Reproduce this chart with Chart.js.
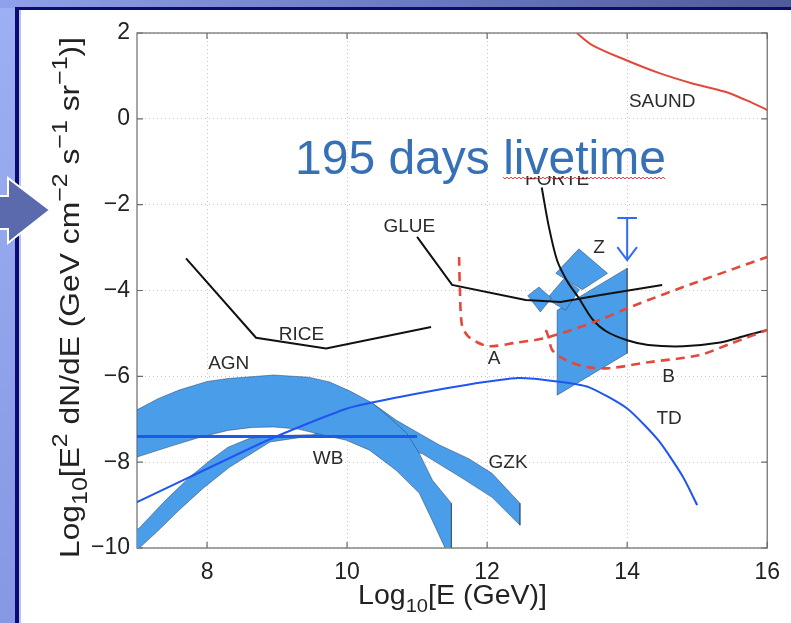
<!DOCTYPE html>
<html>
<head>
<meta charset="utf-8">
<script src="https://cdn.jsdelivr.net/npm/chart.js@4.4.1/dist/chart.umd.min.js"></script>
<style>
html, body { margin: 0; padding: 0; background: #fff; overflow: hidden; }
#wrap { width: 791px; height: 623px; position: relative; }
</style>
</head>
<body>
<div id="wrap"><canvas id="c" width="791" height="623"></canvas></div>
<script>
// axis ticks
const xTicks = [8, 10, 12, 14, 16];
const yTicks = [-10, -8, -6, -4, -2, 0, 2];

// limits (lines)
const saundX = [13.28, 13.5, 13.98, 14.45, 14.92, 15.4, 15.69, 15.97, 16.0];
const saundY = [2.0, 1.72, 1.37, 1.07, 0.83, 0.63, 0.44, 0.23, 0.2];
const riceX = [7.7, 8.7, 9.7, 11.2];
const riceY = [-3.25, -5.1, -5.35, -4.85];
const glueX = [11.0, 11.5, 12.55, 13.05, 13.6, 14.5];
const glueY = [-2.75, -3.87, -4.22, -4.27, -4.11, -3.87];
const forteX = [12.78, 12.88, 13.0, 13.15, 13.3, 13.5, 13.7, 14.0, 14.3, 14.8, 15.3, 15.7, 16.0];
const forteY = [-1.6, -2.5, -3.3, -3.8, -4.15, -4.66, -4.95, -5.16, -5.27, -5.3, -5.22, -5.05, -4.92];
const aX = [11.6, 11.61, 11.64, 11.72, 11.85, 12.03, 12.4, 12.85, 13.6, 14.07, 15.0, 16.0];
const aY = [-3.22, -3.9, -4.8, -5.05, -5.2, -5.3, -5.22, -5.1, -4.69, -4.37, -3.8, -3.22];
const bX = [12.84, 12.88, 12.93, 13.12, 13.41, 13.74, 14.31, 15.02, 15.49, 16.0];
const bY = [-4.92, -5.1, -5.39, -5.62, -5.78, -5.81, -5.67, -5.51, -5.23, -4.92];

// models
const tdX = [7.0, 7.75, 8.85, 10.0, 10.75, 11.7, 12.45, 13.0, 13.45, 14.0, 14.45, 14.8, 15.0];
const tdY = [-8.93, -8.35, -7.5, -6.75, -6.48, -6.2, -6.04, -6.12, -6.25, -6.75, -7.5, -8.35, -9.0];
const wbX = [7.0, 11.0];
const wbY = [-7.4, -7.4];
const agnX = [7.0, 7.3, 7.6, 8.0, 8.3, 8.95, 9.45, 9.75, 10.05, 10.36, 10.6, 10.85, 11.03, 11.22, 11.49, 11.49, 11.47, 11.2, 11.03, 10.7, 10.32, 9.99, 9.61, 9.3, 8.95, 8.65, 8.3, 7.9, 7.5, 7.0, 7.0];
const agnY = [-6.78, -6.52, -6.32, -6.12, -6.05, -5.97, -6.02, -6.13, -6.35, -6.62, -6.95, -7.32, -7.79, -8.42, -8.96, -10.25, -10.25, -9.3, -8.72, -8.19, -7.72, -7.49, -7.35, -7.23, -7.18, -7.19, -7.26, -7.42, -7.62, -7.88, -6.78];
const gzkX = [6.9, 7.04, 7.4, 7.75, 8.05, 8.3, 8.6, 9.0, 9.5, 9.8, 10.1, 10.36, 10.7, 11.0, 11.32, 11.74, 12.07, 12.47, 12.47, 12.07, 11.64, 11.07, 10.5, 10.0, 9.56, 8.9, 8.32, 7.95, 7.6, 7.3, 7.0, 6.9, 6.9];
const gzkY = [-9.7, -9.52, -8.9, -8.35, -7.95, -7.65, -7.45, -7.38, -7.36, -7.2, -6.85, -6.62, -7.02, -7.3, -7.6, -7.92, -8.26, -8.96, -9.47, -8.82, -8.37, -7.8, -7.6, -7.45, -7.37, -7.53, -8.12, -8.6, -9.12, -9.6, -10.05, -10.2, -9.7];
const paraX = [13.0, 14.0, 14.0, 13.0, 13.0];
const paraY = [-4.46, -3.48, -5.46, -6.44, -4.46];
const zUpX = [12.98, 13.31, 13.72, 13.36, 12.98];
const zUpY = [-3.6, -3.03, -3.6, -3.98, -3.6];
const zMidX = [12.85, 13.1, 13.32, 13.12, 12.85];
const zMidY = [-4.2, -3.72, -3.98, -4.46, -4.2];
const zSmallX = [12.58, 12.74, 12.92, 12.76, 12.58];
const zSmallY = [-4.12, -3.92, -4.18, -4.5, -4.12];
// upper limit arrow at 1e14 GeV
const limBarX = [13.86, 14.14];
const limBarY = [-2.31, -2.31];
const limStemX = [14.0, 14.0];
const limStemY = [-2.31, -3.29];
const limHeadX = [13.86, 14.0, 14.14];
const limHeadY = [-2.99, -3.29, -2.99];

// text labels
const labelTexts = ["SAUND", "FORTE", "GLUE", "Z", "RICE", "AGN", "A", "B", "TD", "WB", "GZK"];
const labelX = [14.5, 13.0, 10.89, 13.6, 9.35, 8.31, 12.1, 14.59, 14.6, 9.73, 12.3];
const labelY = [0.39, -1.43, -2.52, -3.0, -5.02, -5.7, -5.6, -6.02, -7.0, -7.91, -8.02];

const BAND = "#4a9de8";
const EDGE = "rgba(40,60,95,0.6)";
const FONT = "'Liberation Sans', Arial, sans-serif";

function pts(xs, ys) {
    return xs.map((x, i) => ({ x: x, y: ys[i] }));
}

function line(xs, ys, color, width, order, opts) {
    return Object.assign({
        data: pts(xs, ys),
        showLine: true,
        borderColor: color,
        borderWidth: width,
        pointRadius: 0,
        fill: false,
        tension: 0,
        order: order
    }, opts || {});
}

function band(xs, ys, order) {
    return {
        data: pts(xs, ys),
        showLine: true,
        borderColor: EDGE,
        borderWidth: 0.8,
        backgroundColor: BAND,
        pointRadius: 0,
        fill: "shape",
        tension: 0,
        order: order
    };
}

// slide background
const framePlugin = {
    id: "frame",
    beforeDraw(chart) {
        const ctx = chart.ctx;
        ctx.save();
        ctx.fillStyle = "#fff";
        ctx.fillRect(0, 0, 791, 623);
        let g = ctx.createLinearGradient(0, 0, 0, 623);
        g.addColorStop(0, "#9db0f3");
        g.addColorStop(1, "#8697e4");
        ctx.fillStyle = g;
        ctx.fillRect(0, 0, 16, 623);
        let g2 = ctx.createLinearGradient(0, 0, 791, 0);
        g2.addColorStop(0, "#8fa1ea");
        g2.addColorStop(0.5, "#6c7cc4");
        g2.addColorStop(1, "#505c98");
        ctx.fillStyle = g2;
        ctx.fillRect(0, 0, 791, 8);
        ctx.fillStyle = "#0b0b70";
        ctx.fillRect(15, 7, 776, 3);
        ctx.fillRect(15, 7, 4, 616);
        ctx.fillStyle = "#b4c2f6";
        ctx.fillRect(19, 10, 2, 613);
        ctx.restore();
    }
};

// plot box with inward ticks
const boxPlugin = {
    id: "box",
    beforeDatasetsDraw(chart) {
        const ctx = chart.ctx, a = chart.chartArea;
        const sx = chart.scales.x, sy = chart.scales.y;
        ctx.save();
        ctx.strokeStyle = "#6a6a6a";
        ctx.lineWidth = 1.2;
        ctx.strokeRect(a.left, a.top, a.right - a.left, a.bottom - a.top);
        ctx.beginPath();
        xTicks.forEach(v => {
            const px = sx.getPixelForValue(v);
            ctx.moveTo(px, a.bottom); ctx.lineTo(px, a.bottom - 6);
            ctx.moveTo(px, a.top); ctx.lineTo(px, a.top + 6);
        });
        yTicks.forEach(v => {
            const py = sy.getPixelForValue(v);
            ctx.moveTo(a.left, py); ctx.lineTo(a.left + 6, py);
            ctx.moveTo(a.right, py); ctx.lineTo(a.right - 6, py);
        });
        ctx.stroke();
        ctx.restore();
    }
};

// text made of normal / sub / sup pieces, stretched to a given length
function richText(ctx, parts, size, small, length) {
    let w = 0;
    parts.forEach(p => {
        ctx.font = (p[1] === "m" ? size : small) + "px " + FONT;
        w += ctx.measureText(p[0]).width;
    });
    ctx.scale(length / w, 1);
    let x = 0;
    parts.forEach(p => {
        const s = p[1] === "m" ? size : small;
        const dy = p[1] === "sub" ? size * 0.3 : (p[1] === "sup" ? -size * 0.42 : 0);
        ctx.font = s + "px " + FONT;
        ctx.fillText(p[0], x, dy);
        x += ctx.measureText(p[0]).width;
    });
}

const textPlugin = {
    id: "texts",
    afterDatasetsDraw(chart) {
        const ctx = chart.ctx;
        const sx = chart.scales.x, sy = chart.scales.y;
        ctx.save();
        ctx.fillStyle = "#2b2b2b";
        ctx.font = "19px " + FONT;
        ctx.textAlign = "center";
        ctx.textBaseline = "middle";
        labelTexts.forEach((t, i) => {
            ctx.fillText(t, sx.getPixelForValue(labelX[i]), sy.getPixelForValue(labelY[i]));
        });

        // text box of the slide caption hides the top of FORTE
        ctx.fillStyle = "#fff";
        ctx.fillRect(515, 160, 90, 16);

        ctx.textAlign = "left";
        ctx.textBaseline = "alphabetic";
        ctx.fillStyle = "#3671b8";
        ctx.font = "48px " + FONT;
        const cap = "195 days ";
        ctx.fillText(cap + "livetime", 295, 174);
        const x0 = 295 + ctx.measureText(cap).width;
        const x1 = 295 + ctx.measureText(cap + "livetime").width;
        // spell-check squiggle
        ctx.strokeStyle = "#e03030";
        ctx.lineWidth = 1;
        ctx.beginPath();
        for (let x = x0, k = 0; x <= x1; x += 2, k++) {
            const y = 178 + (k % 2 === 0 ? -1 : 1);
            if (k === 0) ctx.moveTo(x, y); else ctx.lineTo(x, y);
        }
        ctx.stroke();

        // axis titles
        ctx.fillStyle = "#222";
        ctx.save();
        ctx.translate(358, 604);
        richText(ctx, [["Log", "m"], ["10", "sub"], ["[E (GeV)]", "m"]], 27, 19, 189);
        ctx.restore();
        ctx.save();
        ctx.translate(79, 558);
        ctx.rotate(-Math.PI / 2);
        richText(ctx, [["Log", "m"], ["10", "sub"], ["[E", "m"], ["2", "sup"], [" dN/dE (GeV cm", "m"],
            ["\u22122", "sup"], [" s", "m"], ["\u22121", "sup"], [" sr", "m"], ["\u22121", "sup"], [")]", "m"]], 28, 22, 521);
        ctx.restore();
        ctx.restore();
    }
};

// block arrow on the slide edge
const arrowPlugin = {
    id: "arrow",
    afterDraw(chart) {
        const ctx = chart.ctx;
        ctx.save();
        ctx.beginPath();
        ctx.moveTo(-2, 196); ctx.lineTo(8, 196); ctx.lineTo(8, 178); ctx.lineTo(50, 210);
        ctx.lineTo(8, 243); ctx.lineTo(8, 229); ctx.lineTo(-2, 229); ctx.closePath();
        ctx.fillStyle = "#5b69ad";
        ctx.fill();
        ctx.strokeStyle = "#fff";
        ctx.lineWidth = 2;
        ctx.stroke();
        ctx.restore();
    }
};

const datasets = [
    band(gzkX, gzkY, 20),
    band(agnX, agnY, 19),
    band(paraX, paraY, 18),
    band(zMidX, zMidY, 17),
    band(zSmallX, zSmallY, 16),
    band(zUpX, zUpY, 15),
    line(wbX, wbY, "#1e5ae6", 3, 12),
    line(tdX, tdY, "#1f55f0", 2, 11, { tension: 0.2 }),
    line(limBarX, limBarY, "#2f6bf5", 2, 10),
    line(limStemX, limStemY, "#2f6bf5", 2, 10),
    line(limHeadX, limHeadY, "#2f6bf5", 2, 10),
    line(riceX, riceY, "#111", 2, 8),
    line(glueX, glueY, "#111", 2, 8),
    line(forteX, forteY, "#111", 2, 7, { tension: 0.3 }),
    line(aX, aY, "#e2483c", 2.6, 6, { borderDash: [9, 6], tension: 0.3 }),
    line(bX, bY, "#e2483c", 2.6, 6, { borderDash: [9, 6], tension: 0.3 }),
    line(saundX, saundY, "#e2483c", 2, 5, { tension: 0.3 })
];

new Chart(document.getElementById("c"), {
    type: "scatter",
    data: { datasets: datasets },
    options: {
        responsive: false,
        animation: false,
        layout: { padding: { left: 0, top: 33, right: 22, bottom: 0 } },
        plugins: { legend: { display: false }, tooltip: { enabled: false } },
        scales: {
            x: {
                type: "linear",
                min: 7, max: 16,
                afterBuildTicks: s => { s.ticks = xTicks.map(v => ({ value: v })); },
                afterFit: s => { s.height = 75; },
                grid: { color: "#c8c8c8", lineWidth: 1, drawTicks: false },
                border: { display: false, dash: [1, 3] },
                ticks: { color: "#222", font: { size: 23, family: FONT }, padding: 11, maxRotation: 0 }
            },
            y: {
                type: "linear",
                min: -10, max: 2,
                afterBuildTicks: s => { s.ticks = yTicks.map(v => ({ value: v })); },
                afterFit: s => { s.width = 137; },
                grid: { color: "#c8c8c8", lineWidth: 1, drawTicks: false },
                border: { display: false, dash: [1, 3] },
                ticks: {
                    color: "#222", font: { size: 23, family: FONT }, padding: 7,
                    callback: v => String(v).replace("-", "\u2212")
                }
            }
        }
    },
    plugins: [framePlugin, boxPlugin, textPlugin, arrowPlugin]
});
</script>
</body>
</html>
